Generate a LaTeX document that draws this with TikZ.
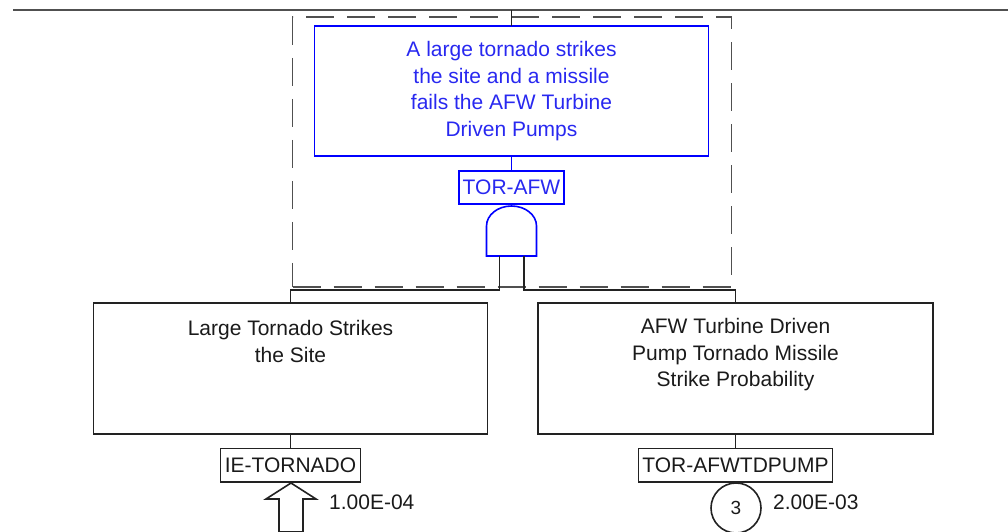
\documentclass[tikz,border=0pt]{standalone}
\usepackage{fontspec}
\setmainfont{Liberation Sans}
\definecolor{lncol}{HTML}{222222}
\definecolor{graycol}{HTML}{505050}
\definecolor{bluecol}{HTML}{0000FF}
\definecolor{bluetxt}{HTML}{2828F0}
\definecolor{txtcol}{HTML}{1A1A1A}
\begin{document}
\begin{tikzpicture}[x=1pt,y=-1pt,line join=miter,
  ln/.style={draw=lncol,line width=1.6pt},
  bx/.style={draw=lncol,line width=1.6pt,rectangle,inner sep=0pt,outer sep=0pt},
  bbx/.style={draw=bluecol,line width=1.6pt,rectangle,inner sep=0pt,outer sep=0pt},
  txt/.style={font=\fontsize{21}{26.5}\selectfont,align=center,inner sep=0pt,text=txtcol},
  btxt/.style={txt,text=bluetxt},
  frame/.style={draw=graycol,line width=1.6pt,dash pattern=on 28pt off 13pt,rectangle,inner sep=0pt,outer sep=0pt},
  topline/.style={draw=graycol,line width=1.6pt}
  ]
\useasboundingbox (0,0) rectangle (1008,532);
\clip (0,0) rectangle (1008,532);
% top line
\coordinate (tl) at (13,10);
\coordinate (tr) at (1008,10);
\draw[topline] (tl) -- (tr);
% dashed frame
\node[frame,minimum width=439pt,minimum height=270pt] (fr) at (512,151.8) {};
% top event
\node[bbx,minimum width=394pt,minimum height=130pt] (top) at (511.5,91) {};
\node[btxt] (toptxt) at (511.5,91) {A large tornado strikes\\the site and a missile\\fails the AFW Turbine\\Driven Pumps};
\draw[ln] (top.north) -- (top.north |- tl);
% gate label
\node[bbx,minimum width=105pt,minimum height=33pt] (gid) at (511.5,187.5) {};
\node[btxt] (gidtxt) at (511.5,187.5) {TOR-AFW};
\draw[draw=bluecol,line width=1.6pt] (top.south) -- (gid.north);
% AND gate
\coordinate (gate) at (511.5,256);
\draw[draw=bluecol,line width=1.6pt] (gate) ++(-25,0) -- ++(0,-30)
  arc[start angle=180,end angle=360,x radius=25,y radius=20] -- ++(0,30) -- cycle;
\coordinate (gl) at (499.3,256);
\coordinate (gr) at (524,256);
% children
\node[bx,minimum width=394pt,minimum height=131pt] (lbox) at (290.5,368.5) {};
\node[txt] (ltxt) at (290.5,341.5) {Large Tornado Strikes\\the Site};
\node[bx,minimum width=395pt,minimum height=131pt] (rbox) at (735.5,368.5) {};
\node[txt] (rtxt) at (735.5,355) {AFW Turbine Driven\\Pump Tornado Missile\\Strike Probability};
\coordinate (lj) at (290.5,290);
\coordinate (rj) at (735.5,290);
\draw[ln] (gl) |- (lj) -- (lbox.north);
\draw[ln] (gr) |- (rj) -- (rbox.north);
% basic event ids
\node[bx,minimum width=140pt,minimum height=33.4pt] (ie) at (290.5,465) {};
\node[txt] (ietxt) at (290.5,465) {IE-TORNADO};
\node[bx,minimum width=194pt,minimum height=33.4pt] (pe) at (735.5,465) {};
\node[txt] (petxt) at (735.5,465) {TOR-AFWTDPUMP};
\draw[ln] (lbox.south) -- (ie.north);
\draw[ln] (rbox.south) -- (pe.north);
% initiating event arrow
\coordinate (tip) at (291,483);
\draw[ln] (tip) -- (266,499) -- (279,499) -- (279,532) -- (303,532) -- (303,499) -- (316,499) -- cycle;
% basic event circle
\node[draw=lncol,line width=1.6pt,circle,minimum size=50pt,inner sep=0pt,font=\fontsize{19}{22}\selectfont,text=txtcol] (c3) at (736,508) {3};
\draw[ln] (pe.south) -- (c3.north);
% probabilities
\node[txt,anchor=west] (p1) at (329,502) {1.00E-04};
\node[txt,anchor=west] (p2) at (773,502) {2.00E-03};
\end{tikzpicture}
\end{document}
